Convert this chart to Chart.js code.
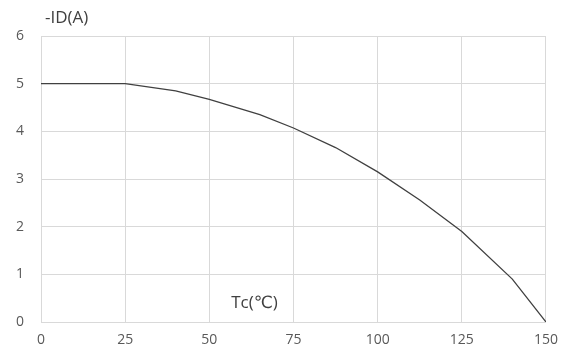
<!DOCTYPE html>
<html>
<head>
<meta charset="utf-8">
<script src="https://cdn.jsdelivr.net/npm/chart.js@4"></script>
<style>
  html, body { margin: 0; padding: 0; background: #fff; }
  #wrap { width: 568px; height: 354px; }
</style>
</head>
<body>
<div id="wrap"><canvas id="line-chart"></canvas></div>
<script>
// Tc (°C) and -ID (A)
var tc = [0, 25, 40, 50, 65, 75, 87.5, 100, 112.5, 125, 140, 150];
var id = [5, 5, 4.85, 4.67, 4.35, 4.07, 3.66, 3.15, 2.56, 1.9, 0.9, 0];
var xTicks = [0, 25, 50, 75, 100, 125, 150];
var yTitle = "-ID(A)";
var xTitle = "Tc(\u2103)";

var points = tc.map(function(t, i) { return { x: t, y: id[i] }; });
var tickColor = "#595959";
var gridColor = "#d9d9d9";
var fontFamily = "'Open Sans', 'DejaVu Sans', sans-serif";

var axisText = {
  id: "axisText",
  afterDraw: function(chart) {
    var ctx = chart.ctx;
    var area = chart.chartArea;
    ctx.save();
    ctx.fillStyle = "#404040";
    ctx.textBaseline = "middle";
    ctx.textAlign = "left";
    ctx.font = "17px " + fontFamily;
    ctx.fillText(yTitle, area.left + 4, 18);
    ctx.fillText(xTitle, chart.scales.x.getPixelForValue(56.5), chart.scales.y.getPixelForValue(0.4));
    ctx.restore();
  }
};

new Chart(document.getElementById("line-chart"), {
  type: "scatter",
  data: {
    datasets: [{
      data: points,
      showLine: true,
      borderColor: "#404040",
      borderWidth: 1.3,
      pointRadius: 0,
      fill: false,
      tension: 0
    }]
  },
  options: {
    responsive: true,
    maintainAspectRatio: false,
    animation: false,
    layout: { padding: { left: 0, right: 19, top: 36, bottom: 0 } },
    plugins: {
      legend: { display: false },
      tooltip: { enabled: false }
    },
    scales: {
      x: {
        type: "linear",
        min: 0,
        max: 150,
        afterBuildTicks: function(scale) {
          scale.ticks = xTicks.map(function(v) { return { value: v }; });
        },
        afterFit: function(scale) { scale.height = 32; },
        grid: { color: gridColor, drawTicks: false },
        border: { color: gridColor },
        ticks: {
          padding: 10,
          color: tickColor,
          font: { family: fontFamily, size: 14 },
          maxRotation: 0
        }
      },
      y: {
        min: 0,
        max: 6,
        afterFit: function(scale) { scale.width = 41; },
        grid: { color: gridColor, drawTicks: false },
        border: { color: gridColor },
        ticks: {
          stepSize: 1,
          padding: 17,
          color: tickColor,
          font: { family: fontFamily, size: 14 }
        }
      }
    }
  },
  plugins: [axisText]
});
</script>
</body>
</html>
